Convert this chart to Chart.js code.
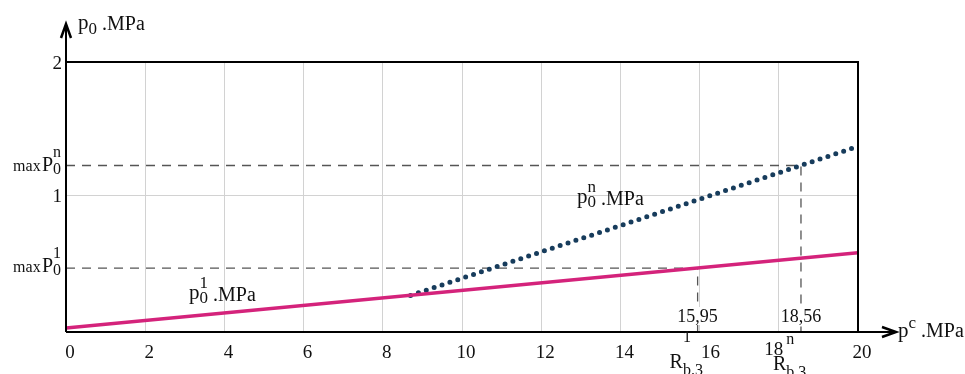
<!DOCTYPE html>
<html lang="en">
<head>
<meta charset="UTF-8" />
<title>p0 vs pc</title>
<script src="https://cdn.jsdelivr.net/npm/chart.js"></script>
<style>
  html, body { margin: 0; padding: 0; background: #fff; }
  #wrap { width: 965px; height: 374px; position: relative; }
</style>
</head>
<body>
<div id="wrap"><canvas id="chart"></canvas></div>
<script>
// values
const pcEnds = [0, 20];
const p0OneValues = [0.0, 0.565];
const pcDotted = [8.7, 20];
const p0nValues = [0.245, 1.365];
const rb3One = 15.95, rb3n = 18.56;
const maxP0One = 0.45, maxP0n = 1.222;
const xTicks = [0, 2, 4, 6, 8, 10, 12, 14, 16, 18, 20];
const yTicks = [1, 2];
const rbLabels = ['15,95', '18,56'];
const yMin = -0.03, yMax = 2;

const serif = '"Liberation Serif", "DejaVu Serif", serif';
const font = s => s + 'px ' + serif;

// draw text pieces left to right, "stack" pieces share x with the next one (sup over sub)
function mathText(ctx, x, y, parts, align) {
  let cx = 0, pending = 0;
  const pos = [];
  parts.forEach(p => {
    ctx.font = font(p.s);
    const w = ctx.measureText(p.t).width;
    pos.push(cx);
    if (p.stack) pending = Math.max(pending, w);
    else { cx += Math.max(w, pending); pending = 0; }
  });
  const x0 = align === 'right' ? x - cx : align === 'center' ? x - cx / 2 : x;
  ctx.textAlign = 'left';
  ctx.textBaseline = 'alphabetic';
  parts.forEach((p, i) => {
    ctx.font = font(p.s);
    ctx.fillText(p.t, x0 + pos[i], y + (p.dy || 0));
  });
}

const line = (data, color, width, dash, cap) => ({
  data, borderColor: color, borderWidth: width, borderDash: dash || [],
  borderCapStyle: cap || 'butt', pointRadius: 0, fill: false, tension: 0
});

const decor = {
  id: 'decor',
  afterDraw(chart) {
    const { ctx, scales: { x, y } } = chart;
    const X = v => x.getPixelForValue(v), Y = v => y.getPixelForValue(v);
    ctx.save();
    ctx.strokeStyle = '#000';
    ctx.fillStyle = '#111';
    ctx.lineWidth = 2;
    // frame top / right
    ctx.beginPath();
    ctx.moveTo(X(0), Y(2)); ctx.lineTo(X(20), Y(2)); ctx.lineTo(X(20), Y(yMin));
    ctx.stroke();
    // axes with arrows
    const ax = X(0), ay = Y(yMin);
    ctx.beginPath();
    ctx.moveTo(ax, ay); ctx.lineTo(ax, 24);
    ctx.moveTo(ax, ay); ctx.lineTo(896, ay);
    ctx.stroke();
    ctx.lineWidth = 2.5;
    ctx.beginPath();
    ctx.moveTo(ax - 5, 38); ctx.lineTo(ax, 24); ctx.lineTo(ax + 5, 38);
    ctx.moveTo(882, ay - 5); ctx.lineTo(896, ay); ctx.lineTo(882, ay + 5);
    ctx.stroke();

    // x tick labels
    ctx.textAlign = 'center';
    ctx.font = font(19);
    xTicks.forEach(v => {
      let dx = 4, by = 358;
      if (v === 16) dx = 11;
      if (v === 18) { dx = -5; by = 355; }
      ctx.fillText(String(v), X(v) + dx, by);
    });
    // y tick labels
    ctx.textAlign = 'right';
    yTicks.forEach(v => ctx.fillText(String(v), 62, Y(v) + 7));

    // max p0 labels on the y axis
    const maxLabel = (sup, base) => mathText(ctx, 61, base, [
      { t: 'max', s: 16 }, { t: ' ', s: 5 }, { t: 'P', s: 20 },
      { t: sup, s: 16, dy: -14, stack: true }, { t: '0', s: 16, dy: 3 }
    ], 'right');
    maxLabel('n', Y(maxP0n) + 6);
    maxLabel('1', Y(maxP0One) + 4);

    // values on top of the x axis
    ctx.font = font(18);
    ctx.textAlign = 'center';
    [rb3One, rb3n].forEach((v, i) => {
      const w = ctx.measureText(rbLabels[i]).width;
      ctx.fillStyle = '#fff';
      ctx.fillRect(X(v) - w / 2 - 1, 307, w + 2, 18);
      ctx.fillStyle = '#111';
      ctx.fillText(rbLabels[i], X(v), 322);
    });

    // R_b.3 labels under the axis
    const rLabel = (v, sup, base) => mathText(ctx, X(v) - 28, base, [
      { t: 'R', s: 20 }, { t: sup, s: 16, dy: -26, stack: true }, { t: 'b.3', s: 16, dy: 7 }
    ]);
    rLabel(rb3One, '1', 368);
    rLabel(rb3n, 'n', 370);

    // axis titles
    mathText(ctx, 78, 29, [{ t: 'p', s: 21 }, { t: '0', s: 17, dy: 5 }, { t: ' .MPa', s: 20, dy: 1 }]);
    mathText(ctx, 898, 337, [{ t: 'p', s: 21 }, { t: 'c', s: 17, dy: -9 }, { t: ' .MPa', s: 20 }]);

    // curve labels
    mathText(ctx, 577, 203, [
      { t: 'p', s: 21 }, { t: 'n', s: 17, dy: -11, stack: true }, { t: '0', s: 17, dy: 4 }, { t: ' .MPa', s: 20, dy: 2 }
    ]);
    mathText(ctx, 189, 299, [
      { t: 'p', s: 21 }, { t: '1', s: 17, dy: -11, stack: true }, { t: '0', s: 17, dy: 4 }, { t: ' .MPa', s: 20, dy: 2 }
    ]);
    ctx.restore();
  }
};

new Chart(document.getElementById('chart'), {
  type: 'line',
  data: {
    datasets: [
      line(pcEnds.map((v, i) => ({ x: v, y: p0OneValues[i] })), '#d4237b', 3.5),
      line(pcDotted.map((v, i) => ({ x: v, y: p0nValues[i] })), '#173c5c', 5, [0, 8.3], 'round'),
      line([{ x: 0, y: maxP0n }, { x: rb3n, y: maxP0n }, { x: rb3n, y: yMin }], '#555', 1.3, [9, 7]),
      line([{ x: 0, y: maxP0One }, { x: rb3One, y: maxP0One }, { x: rb3One, y: yMin }], '#555', 1.3, [9, 7])
    ]
  },
  options: {
    responsive: true,
    maintainAspectRatio: false,
    animation: false,
    events: [],
    layout: { padding: { left: 66, right: 107, top: 62, bottom: 42 } },
    plugins: { legend: { display: false }, tooltip: { enabled: false } },
    scales: {
      x: {
        type: 'linear', min: 0, max: 20,
        afterBuildTicks: s => { s.ticks = xTicks.map(v => ({ value: v })); },
        ticks: { display: false },
        border: { display: false },
        grid: { color: c => (c.tick && (c.tick.value === 0 || c.tick.value === 20)) ? 'rgba(0,0,0,0)' : '#d2d2d2', drawTicks: false }
      },
      y: {
        min: yMin, max: yMax,
        afterBuildTicks: s => { s.ticks = yTicks.map(v => ({ value: v })); },
        ticks: { display: false },
        border: { display: false },
        grid: { color: '#d2d2d2', drawTicks: false }
      }
    }
  },
  plugins: [decor]
});
</script>
</body>
</html>
